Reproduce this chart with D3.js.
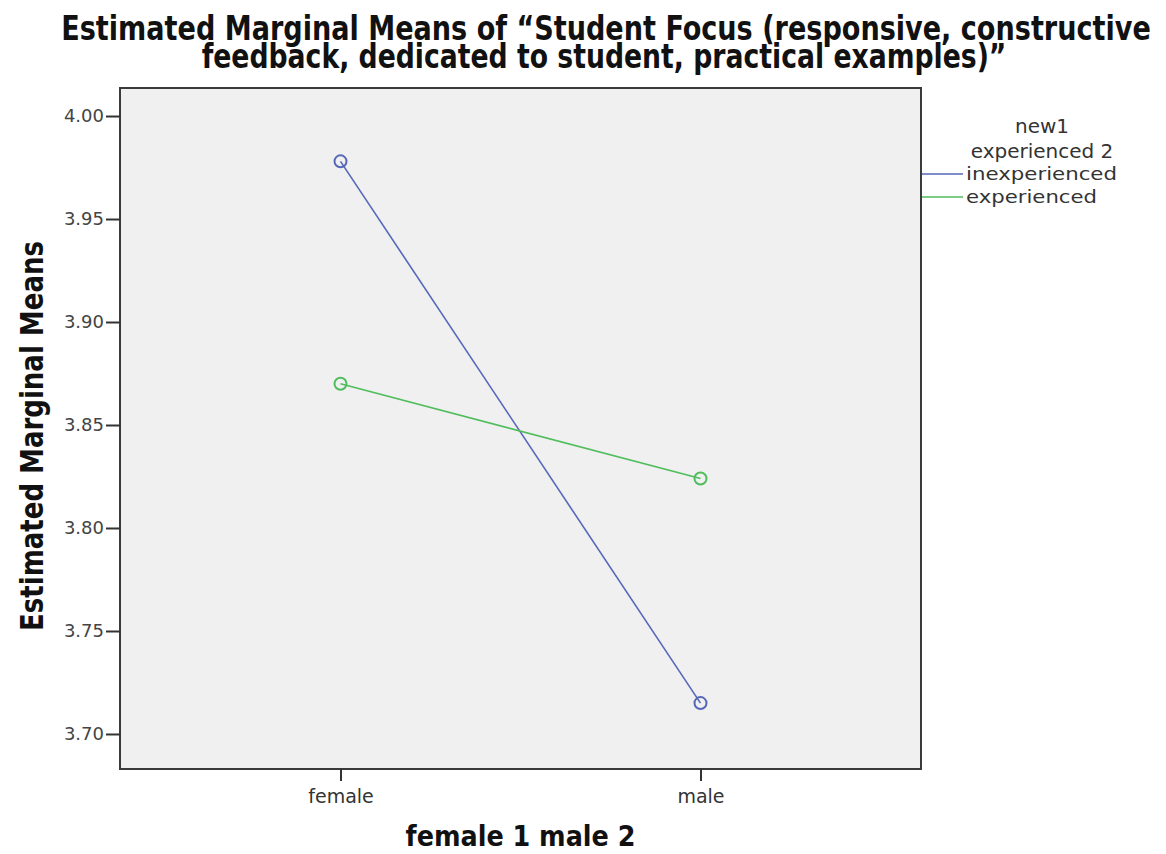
<!DOCTYPE html>
<html><head><meta charset="utf-8">
<script src="https://cdn.jsdelivr.net/npm/d3@7"></script>
<style>body{margin:0;background:#fff;} svg{display:block;} .cond{font-stretch:condensed;}</style>
</head><body>
<svg id="chart" width="1166" height="854"></svg>
<script>
const categories = ["female", "male"];
const seriesNames = ["inexperienced", "experienced"];
const inexperienced = [3.978, 3.715];
const experienced = [3.870, 3.824];
const yTicks = [3.70, 3.75, 3.80, 3.85, 3.90, 3.95, 4.00];
const titleLines = ["Estimated Marginal Means of \u201cStudent Focus (responsive, constructive",
                    "feedback, dedicated to student, practical examples)\u201d"];
const legendTitle = ["new1", "experienced 2"];
const colors = ["#5568b8", "#4fbd5c"];

const svg = d3.select("#chart");
const L = 120, R = 921, T = 88, B = 769;

const x = d3.scalePoint().domain(categories).range([L, R]).padding(0.6125);
const y = d3.scaleLinear().domain([3.683, 4.0136]).range([B, T]);

// panel
svg.append("rect").attr("x", L).attr("y", T).attr("width", R - L).attr("height", B - T)
  .attr("fill", "#f0f0f0").attr("stroke", "#3a3a3a").attr("stroke-width", 2);

const titleFont = "'DejaVu Sans Condensed','DejaVu Sans',sans-serif";
// text squeezed horizontally to a target width via a scale transform
function fitText(str, cx, cy, size, width, rotate) {
  const g = svg.append("g").attr("transform", `translate(${cx},${cy})` + (rotate ? " rotate(-90)" : ""));
  const t = g.append("text").attr("class", "cond").text(str).attr("text-anchor", "middle")
    .attr("font-family", titleFont).attr("font-weight", "bold").attr("font-size", size).attr("fill", "#111");
  const w = t.node().getComputedTextLength();
  t.attr("transform", `scale(${width / w},1)`);
  return t;
}

// title
fitText(titleLines[0], 606, 40, 33, 1090, false);
fitText(titleLines[1], 604, 68, 33, 805, false);

// axes
const tickFont = "'DejaVu Sans',Verdana,sans-serif";
const yAxis = svg.append("g").attr("transform", `translate(${L},0)`)
  .call(d3.axisLeft(y).tickValues(yTicks).tickFormat(d3.format(".2f")).tickSize(14).tickPadding(2));
yAxis.select(".domain").remove();
yAxis.selectAll("line").attr("stroke", "#333").attr("stroke-width", 2);
yAxis.selectAll("text").attr("font-family", tickFont).attr("font-size", 18).attr("fill", "#444");

const xAxis = svg.append("g").attr("transform", `translate(0,${B})`)
  .call(d3.axisBottom(x).tickSize(12).tickPadding(9));
xAxis.select(".domain").remove();
xAxis.selectAll("line").attr("stroke", "#333").attr("stroke-width", 2);
xAxis.selectAll("text").attr("font-family", tickFont).attr("font-size", 19).attr("fill", "#333");

// axis titles
fitText("Estimated Marginal Means", 43, 436, 32, 390, true);
fitText("female 1 male 2", (L + R) / 2, 846, 29, 230, false);

// lines
const series = [inexperienced, experienced];
const line = d3.line().x((d, i) => x(categories[i])).y(d => y(d));
series.forEach((s, k) => {
  svg.append("path").datum(s).attr("d", line).attr("fill", "none")
    .attr("stroke", colors[k]).attr("stroke-width", 1.6);
  svg.selectAll(null).data(s).enter().append("circle")
    .attr("cx", (d, i) => x(categories[i])).attr("cy", d => y(d)).attr("r", 6)
    .attr("fill", "none").attr("stroke", colors[k]).attr("stroke-width", 2);
});

// legend
const legFont = "'DejaVu Sans',Verdana,sans-serif";
legendTitle.forEach((t, i) => {
  svg.append("text").attr("x", 1042).attr("y", 133 + i * 25).attr("text-anchor", "middle")
    .text(t).attr("font-family", legFont).attr("font-size", 20).attr("fill", "#333");
});
const legLens = [151, 131];
seriesNames.forEach((n, i) => {
  const yy = 174 + i * 23;
  svg.append("line").attr("x1", 922).attr("x2", 963).attr("y1", yy).attr("y2", yy)
    .attr("stroke", colors[i]).attr("stroke-width", 1.6);
  svg.append("text").attr("x", 966).attr("y", yy + 6).text(n)
    .attr("font-family", legFont).attr("font-size", 18).attr("fill", "#333")
    .attr("textLength", legLens[i]).attr("lengthAdjust", "spacingAndGlyphs");
});
</script>
</body></html>
